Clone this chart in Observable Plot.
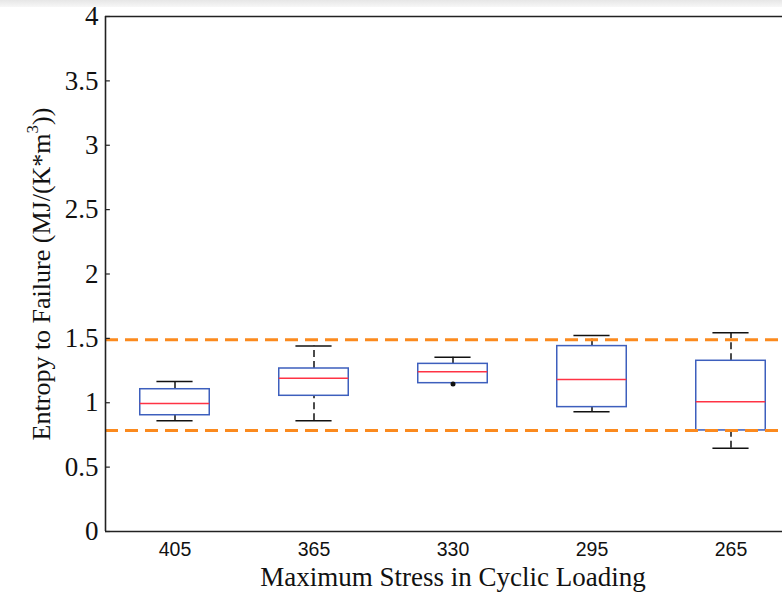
<!DOCTYPE html>
<html>
<head>
<meta charset="utf-8">
<script src="https://cdn.jsdelivr.net/npm/d3@7"></script>
<script src="https://cdn.jsdelivr.net/npm/@observablehq/plot@0.6"></script>
<style>
  html, body { margin: 0; padding: 0; background: #fff; }
  #chart { position: relative; width: 782px; height: 593px; }
  #chart svg { display: block; overflow: hidden; }
  .topband { position: absolute; left: 0; top: 0; width: 782px; height: 7px;
             background: linear-gradient(#e6e6e6, #f7f7f7); }
</style>
</head>
<body>
<div id="chart"><div class="topband"></div></div>
<script>
// Entropy to failure at each maximum stress level (box-plot summary)
const stress       = ["405", "365", "330", "295", "265"];
const lowerWhisker = [0.86, 0.86, 1.152, 0.93, 0.647];
const quartile1    = [0.903, 1.054, 1.152, 0.966, 0.785];
const median       = [0.994, 1.19, 1.24, 1.18, 1.007];
const quartile3    = [1.105, 1.266, 1.302, 1.44, 1.326];
const upperWhisker = [1.165, 1.44, 1.354, 1.522, 1.543];
const outlierGroup = [3];
const outlierValue = [1.145];
// band limits (dashed orange)
const limits = [0.785, 1.49];
const yTicks = [0, 0.5, 1, 1.5, 2, 2.5, 3, 3.5, 4];

const rows = stress.map((s, i) => ({
  pos: i + 1, label: s,
  lo: lowerWhisker[i], q1: quartile1[i], med: median[i], q3: quartile3[i], hi: upperWhisker[i]
}));
const outliers = outlierGroup.map((g, i) => ({pos: g, v: outlierValue[i]}));

const blue = "#3d5fbd", red = "#ff3344", orange = "#fb8a1e";
const halfBox = 0.25, halfCap = 0.13;

const chart = Plot.plot({
  width: 782,
  height: 593,
  marginLeft: 105,
  marginRight: 0,
  marginTop: 16,
  marginBottom: 62,
  x: {domain: [0.5, 5.5], range: [105, 800]},
  y: {domain: [0, 4], range: [531, 16]},
  marks: [
    // whiskers
    Plot.ruleX(rows, {x: "pos", y1: "q3", y2: "hi", stroke: "#111", strokeWidth: 1.5, strokeDasharray: "7,4"}),
    Plot.ruleX(rows.filter(d => d.lo < d.q1), {x: "pos", y1: "lo", y2: "q1", stroke: "#111", strokeWidth: 1.5, strokeDasharray: "7,4"}),
    // whisker caps
    Plot.ruleY(rows, {y: "hi", x1: d => d.pos - halfCap, x2: d => d.pos + halfCap, stroke: "#111", strokeWidth: 1.5}),
    Plot.ruleY(rows.filter(d => d.lo < d.q1), {y: "lo", x1: d => d.pos - halfCap, x2: d => d.pos + halfCap, stroke: "#111", strokeWidth: 1.5}),
    // boxes
    Plot.rect(rows, {x1: d => d.pos - halfBox, x2: d => d.pos + halfBox, y1: "q1", y2: "q3",
      fill: "white", stroke: blue, strokeWidth: 1.5}),
    // medians
    Plot.ruleY(rows, {y: "med", x1: d => d.pos - halfBox, x2: d => d.pos + halfBox, stroke: red, strokeWidth: 1.5}),
    // outlier
    Plot.dot(outliers, {x: "pos", y: "v", r: 2.5, fill: "#111", stroke: null}),
    // dashed limit lines
    Plot.ruleY(limits, {x1: 0.5, x2: 5.5, stroke: orange, strokeWidth: 3, strokeDasharray: "13,7"}),
    // axes frame (left, bottom, top)
    Plot.ruleX([0.5], {y1: 0, y2: 4, stroke: "#222", strokeWidth: 1.6}),
    Plot.ruleY([0, 4], {x1: 0.5, x2: 5.5, stroke: "#222", strokeWidth: 1.6}),
    // inward y ticks
    Plot.ruleY(yTicks, {x1: 0.5, x2: 0.535, stroke: "#222", strokeWidth: 1.2}),
    Plot.axisY({ticks: yTicks, tickFormat: d => String(d), tickSize: 0, tickPadding: 7,
      fontSize: 27, fontFamily: "Liberation Serif", fill: "#111", label: null}),
    Plot.axisX({ticks: [1, 2, 3, 4, 5], tickFormat: d => stress[d - 1], tickSize: 0, tickPadding: 11,
      fontSize: 19.5, fontFamily: "Liberation Sans", fill: "#111", label: null}),
    // axis titles
    Plot.text(["Maximum Stress in Cyclic Loading"], {x: 3, y: 0, dy: 46, text: d => d,
      fontSize: 27, fontFamily: "Liberation Serif", fill: "#111", lineAnchor: "middle"}),
    Plot.text(["Entropy to Failure (MJ/(K*m3))"], {x: 0.5, y: 2, dx: -64, text: d => d, rotate: -90,
      fontSize: 26, fontFamily: "Liberation Serif", fill: "#111", lineAnchor: "middle"})
  ]
});

// raise the cubic exponent in the y-axis title
d3.select(chart).selectAll("text")
  .filter(function () { return this.textContent === "Entropy to Failure (MJ/(K*m3))"; })
  .each(function () {
    const t = d3.select(this);
    t.text(null);
    t.append("tspan").text("Entropy to Failure (MJ/(K*m");
    t.append("tspan").attr("dy", -12).attr("font-size", 17).text("3");
    t.append("tspan").attr("dy", 12).text("))");
  });

document.getElementById("chart").appendChild(chart);
</script>
</body>
</html>
